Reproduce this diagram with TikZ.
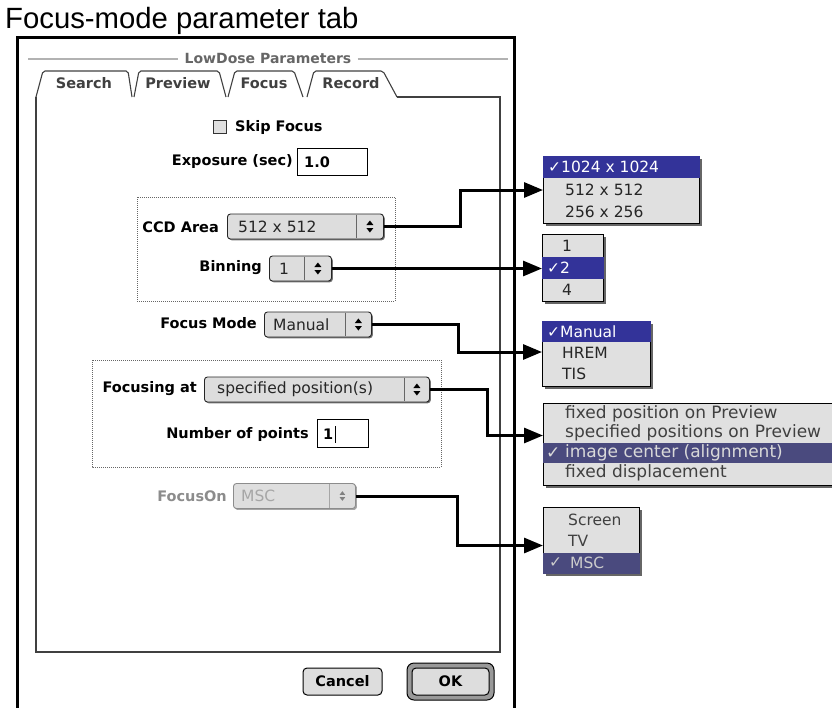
\documentclass[tikz,border=0pt]{standalone}
\usepackage{fontspec}
\setmainfont{DejaVu Sans}
\newfontfamily\titlefont{Liberation Sans}
\usetikzlibrary{arrows.meta,shadows,calc}
\definecolor{uigray}{HTML}{DDDDDD}
\definecolor{menubg}{HTML}{E0E0E0}
\definecolor{hinavy}{HTML}{333399}
\definecolor{himuted}{HTML}{4A4A7E}
\definecolor{panelline}{HTML}{404040}
\tikzset{
  updown/.pic={
    \fill (-3.5,-1.5) -- (3.5,-1.5) -- (0,-6) -- cycle;
    \fill (-3.5,1.5) -- (3.5,1.5) -- (0,6) -- cycle;
  }
}
\begin{document}
\begin{tikzpicture}[x=1pt,y=-1pt,
  lbl/.style={font=\fontsize{14.5}{16}\selectfont\bfseries, inner sep=0, anchor=east},
  tablbl/.style={font=\fontsize{14.5}{16}\selectfont\bfseries, inner sep=0, text=black!75},
  tabline/.style={draw=panelline, line width=1.1pt},
  hdrline/.style={draw=black!30, line width=1.2pt},
  popup/.style={draw=black!85, fill=uigray, rounded corners=3, minimum height=25,
    inner sep=0, anchor=west, line width=0.9pt,
    drop shadow={shadow xshift=1.3pt, shadow yshift=-1.3pt, fill=black!55, opacity=1}},
  poptext/.style={font=\fontsize{15.5}{17}\selectfont, inner sep=0, anchor=west, text=black!85},
  divider/.style={draw=black!60, line width=0.8pt},
  field/.style={draw=black, fill=white, line width=1pt, inner sep=0, anchor=west},
  dotbox/.style={draw=black!60, line width=0.8pt, dash pattern=on 1pt off 1pt},
  menu/.style={draw=black, fill=menubg, inner sep=0, anchor=north west, line width=1pt,
    drop shadow={shadow xshift=2pt, shadow yshift=-2pt, fill=black!60, opacity=1}},
  mtext/.style={font=\fontsize{15.5}{17}\selectfont, inner sep=0, anchor=west, text=black!85},
  mtextb/.style={font=\fontsize{17}{19}\selectfont, inner sep=0, anchor=west, text=black!75},
  btn/.style={draw=black, fill=uigray, rounded corners=4, line width=1pt, inner sep=0,
    font=\fontsize{14.5}{16}\selectfont\bfseries},
  conn/.style={line width=3pt, -{Triangle[length=19pt,width=15pt]}}
]
\useasboundingbox (0,0) rectangle (832,707);

% caption
\node[font=\titlefont\fontsize{29.3}{32}\selectfont, anchor=base west, inner sep=0] (title) at (5,28) {Focus-mode parameter tab};

% window frame
\draw[line width=3pt] (17,712) -- (17,37.5) -- (514,37.5) -- (514,712);

% group header
\node[font=\fontsize{14}{16}\selectfont\bfseries, text=black!60, inner sep=0] (hdr) at (268,58) {LowDose Parameters};
\draw[hdrline] (28,59) -- ([xshift=-6pt]hdr.west |- 0,59);
\draw[hdrline] ([xshift=6pt]hdr.east |- 0,59) -- (508,59);

% tabs
\draw[tabline, rounded corners=2] (36,97) -- (43,71) -- (128,71) -- (132,97);
\draw[tabline, rounded corners=2] (134,97) -- (139,71) -- (219,71) -- (226,97);
\draw[tabline, rounded corners=2] (228,97) -- (235,71) -- (294,71) -- (303,97);
\draw[tabline, rounded corners=2] (307,97) -- (314,71) -- (383,71) -- (397,97);
\draw[tabline] (397,97) -- (500,97) -- (500,652) -- (36,652) -- (36,97);
\node[tablbl] (tsearch) at (84,83) {Search};
\node[tablbl] (tpreview) at (178,83) {Preview};
\node[tablbl] (tfocus) at (264,83) {Focus};
\node[tablbl] (trecord) at (351,83) {Record};

% skip focus
\node[draw=black!80, fill=black!12, minimum size=13, inner sep=0, line width=0.9pt] (skipbox) at (220,126.5) {};
\node[lbl, anchor=west] (skip) at (235,127) {Skip Focus};

% exposure
\node[lbl] (expl) at (293,162) {Exposure (sec)};
\node[field, minimum width=70, minimum height=27] (expbox) at (297,162) {};
\node[lbl, anchor=west] (expv) at (304,162) {1.0};

% CCD group
\draw[dotbox] (137,197) rectangle (395,301);
\node[lbl] (ccdl) at (219,227) {CCD Area};
\node[popup, minimum width=156] (ccd) at (227,226.5) {};
\node[poptext] (ccdv) at ([xshift=11pt]ccd.west) {512 x 512};
\draw[divider] ([xshift=-28pt,yshift=-1pt]ccd.north east) -- ([xshift=-28pt,yshift=1pt]ccd.south east);
\pic at ([xshift=-14pt]ccd.east) {updown};

\node[lbl] (binl) at (262,268) {Binning};
\node[popup, minimum width=62] (bin) at (269,268.5) {};
\node[poptext] (binv) at ([xshift=10pt]bin.west) {1};
\draw[divider] ([xshift=-28pt,yshift=-1pt]bin.north east) -- ([xshift=-28pt,yshift=1pt]bin.south east);
\pic at ([xshift=-14pt]bin.east) {updown};

% focus mode
\node[lbl] (fml) at (257,323) {Focus Mode};
\node[popup, minimum width=107] (fm) at (264,324.5) {};
\node[poptext] (fmv) at ([xshift=9pt]fm.west) {Manual};
\draw[divider] ([xshift=-27pt,yshift=-1pt]fm.north east) -- ([xshift=-27pt,yshift=1pt]fm.south east);
\pic at ([xshift=-13.5pt]fm.east) {updown};

% focusing group
\draw[dotbox] (92,360) rectangle (441,467);
\node[lbl] (fatl) at (197,389) {Focusing at};
\node[popup, minimum width=225] (fat) at (204,389.5) {};
\node[poptext] (fatv) at ([xshift=13pt]fat.west) {specified position(s)};
\draw[divider] ([xshift=-26pt,yshift=-1pt]fat.north east) -- ([xshift=-26pt,yshift=1pt]fat.south east);
\pic at ([xshift=-13pt]fat.east) {updown};

\node[lbl] (npl) at (309,434) {Number of points};
\node[field, minimum width=51, minimum height=28] (npbox) at (317,433) {};
\node[lbl, anchor=west] (npv) at (323,434) {1};
\draw[line width=1pt] ($(npv.east)+(2,-8)$) -- ($(npv.east)+(2,9)$);

% focus on (disabled)
\node[lbl, text=black!45] (fonl) at (227,496) {FocusOn};
\node[popup, minimum width=122, draw=black!45, fill=black!13,
  drop shadow={shadow xshift=1.3pt, shadow yshift=-1.3pt, fill=black!35, opacity=1}] (fon) at (233,496) {};
\node[poptext, text=black!35] (fonv) at ([xshift=8pt]fon.west) {MSC};
\draw[divider, draw=black!35] ([xshift=-27pt,yshift=-1pt]fon.north east) -- ([xshift=-27pt,yshift=1pt]fon.south east);
\pic[black!50, scale=0.8] at ([xshift=-13.5pt]fon.east) {updown};

% buttons
\node[btn, minimum width=79, minimum height=27] (cancel) at (342.5,681.5) {Cancel};
\node[draw=black, fill=black!40, rounded corners=7, line width=1pt, minimum width=87, minimum height=37, inner sep=0] (okring) at (450.5,681.5) {};
\node[btn, minimum width=77, minimum height=27] (ok) at (450.5,681.5) {OK};

% menu: CCD area
\node[menu, minimum width=156, minimum height=67] (m1) at (543,156) {};
\fill[hinavy] (m1.north west) rectangle ([yshift=-22pt]m1.north east);
\node[mtext, text=white] (m1a) at (548,167) {✓1024 x 1024};
\node[mtext] (m1b) at (565,189.5) {512 x 512};
\node[mtext] (m1c) at (565,211.5) {256 x 256};

% menu: binning
\node[menu, minimum width=61, minimum height=67] (m2) at (542,234) {};
\fill[hinavy] ([yshift=-22.5pt]m2.north west) rectangle ([yshift=-44.5pt]m2.north east);
\node[mtext] (m2a) at (562,245.5) {1};
\node[mtext, text=white] (m2b) at (547,267.5) {✓2};
\node[mtext] (m2c) at (562,290) {4};

% menu: focus mode
\node[menu, minimum width=108, minimum height=65] (m3) at (542,321) {};
\fill[hinavy] (m3.north west) rectangle ([yshift=-21pt]m3.north east);
\node[mtext, text=white] (m3a) at (547,331.5) {✓Manual};
\node[mtext] (m3b) at (562,353) {HREM};
\node[mtext] (m3c) at (562,374) {TIS};

% menu: focusing position
\node[menu, minimum width=300, minimum height=82] (m4) at (543,403) {};
\fill[himuted] ([yshift=-40pt]m4.north west) rectangle ([yshift=-60pt]m4.north east);
\node[mtextb] (m4a) at (565,414) {fixed position on Preview};
\node[mtextb] (m4b) at (565,433) {specified positions on Preview};
\node[mtextb, text=black!15] (m4ck) at (546,453) {✓};
\node[mtextb, text=black!15] (m4c) at (565,453) {image center (alignment)};
\node[mtextb] (m4d) at (565,473) {fixed displacement};

% menu: focus on
\node[menu, minimum width=96, minimum height=66] (m5) at (543,507) {};
\fill[himuted] ([yshift=-46pt]m5.north west) rectangle (m5.south east);
\node[mtext, text=black!75] (m5a) at (568,520) {Screen};
\node[mtext, text=black!75] (m5b) at (568,541) {TV};
\node[mtext, text=black!20] (m5ck) at (549,563) {✓};
\node[mtext, text=black!20] (m5c) at (570,563) {MSC};

% connectors
\draw[conn] (ccd.east) -- ++(77,0) |- (m1.west);
\draw[conn] (bin.east) -- (bin.east -| m2.west);
\draw[conn] (fm.east) -- ++(87,0) |- ([yshift=2pt]m3.west);
\draw[conn] (fat.east) -- ++(58,0) |- ([yshift=9pt]m4.west);
\draw[conn] (fon.east) -- ++(102,0) |- ([yshift=-5pt]m5.west);
\end{tikzpicture}
\end{document}
